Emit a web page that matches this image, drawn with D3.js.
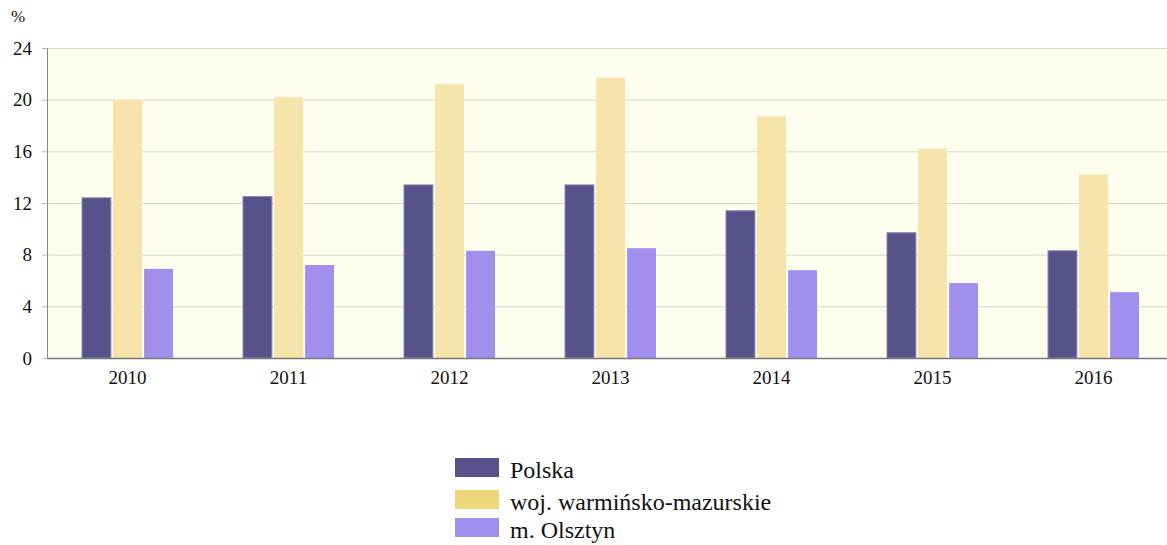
<html>
<head>
<meta charset="utf-8">
<script src="https://d3js.org/d3.v7.min.js"></script>
<style>
  body { margin: 0; background: #fff; }
  text { font-family: "Liberation Serif", "Times New Roman", serif; }
</style>
</head>
<body>
<div id="chart"></div>
<script>
// data
var years = ["2010", "2011", "2012", "2013", "2014", "2015", "2016"];
var seriesNames = ["Polska", "woj. warmińsko-mazurskie", "m. Olsztyn"];
var polska = [12.4, 12.5, 13.4, 13.4, 11.4, 9.7, 8.3];
var warminsko = [20.0, 20.2, 21.2, 21.7, 18.7, 16.2, 14.2];
var olsztyn = [6.9, 7.2, 8.3, 8.5, 6.8, 5.8, 5.1];
var yTicks = [0, 4, 8, 12, 16, 20, 24];

var barColors = ["#58528a", "#f7e4ab", "#a08fec"];
var legendColors = ["#58528a", "#efd67a", "#a08fec"];

var width = 1167, height = 545;
var plotLeft = 47, plotTop = 48, plotH = 310, step = 161;

var svg = d3.select("#chart").append("svg")
  .attr("width", width)
  .attr("height", height);

var x = d3.scaleBand()
  .domain(years)
  .range([plotLeft, plotLeft + step * years.length]);

var xs = d3.scaleBand()
  .domain(d3.range(3))
  .range([x.bandwidth() / 2 - 45.5, x.bandwidth() / 2 + 45.5])
  .paddingInner(0.07);

var y = d3.scaleLinear().domain([0, 24]).range([plotTop + plotH, plotTop]);

// plot background
svg.append("rect")
  .attr("x", plotLeft).attr("y", plotTop)
  .attr("width", width - plotLeft).attr("height", plotH)
  .attr("fill", "#fefeee");

// gridlines
svg.selectAll(".grid")
  .data(yTicks.filter(function(t){ return t > 0; }))
  .enter().append("line")
  .attr("x1", plotLeft).attr("x2", width)
  .attr("y1", function(d){ return y(d) + 0.5; })
  .attr("y2", function(d){ return y(d) + 0.5; })
  .attr("stroke", "#d6d6d0");

// y axis
var yAxis = svg.append("g")
  .attr("transform", "translate(" + plotLeft + ",0)")
  .call(d3.axisLeft(y).tickValues(yTicks).tickSize(5).tickPadding(10));
yAxis.select(".domain").attr("stroke", "#888");
yAxis.selectAll(".tick line").attr("stroke", "#bbb");
yAxis.selectAll("text").attr("font-size", "19px").attr("fill", "#111")
  .attr("font-family", "'Liberation Serif', serif");

svg.append("text")
  .attr("x", 11).attr("y", 22)
  .attr("font-size", "17px").attr("fill", "#111")
  .text("%");

// bars
var data = [polska, warminsko, olsztyn];
var groups = svg.selectAll(".yr")
  .data(years)
  .enter().append("g")
  .attr("transform", function(d){ return "translate(" + x(d) + ",0)"; });

groups.selectAll("rect")
  .data(function(d, i){ return data.map(function(s, k){ return { k: k, v: s[i] }; }); })
  .enter().append("rect")
  .attr("x", function(d){ return xs(d.k); })
  .attr("width", xs.bandwidth())
  .attr("y", function(d){ return y(d.v); })
  .attr("height", function(d){ return y(0) - y(d.v); })
  .attr("fill", function(d){ return barColors[d.k]; })
  .attr("stroke", function(d){ return d.k == 0 ? "#8a86b0" : "none"; })
  .attr("stroke-width", 1);

// x axis
var xAxis = svg.append("g")
  .attr("transform", "translate(0," + (plotTop + plotH) + ")")
  .call(d3.axisBottom(x).tickSize(0).tickPadding(13));
xAxis.select(".domain").attr("stroke", "#777").attr("stroke-width", 1.5);
xAxis.selectAll("text").attr("font-size", "19px").attr("fill", "#111")
  .attr("font-family", "'Liberation Serif', serif");

// legend
var legY = [458, 490, 518];
var leg = svg.selectAll(".leg")
  .data(seriesNames)
  .enter().append("g")
  .attr("transform", function(d, i){ return "translate(455," + legY[i] + ")"; });
leg.append("rect")
  .attr("width", 44).attr("height", 19)
  .attr("fill", function(d, i){ return legendColors[i]; });
leg.append("text")
  .attr("x", 55).attr("y", 20)
  .attr("font-size", "24px").attr("fill", "#111")
  .text(function(d){ return d; });
</script>
</body>
</html>
